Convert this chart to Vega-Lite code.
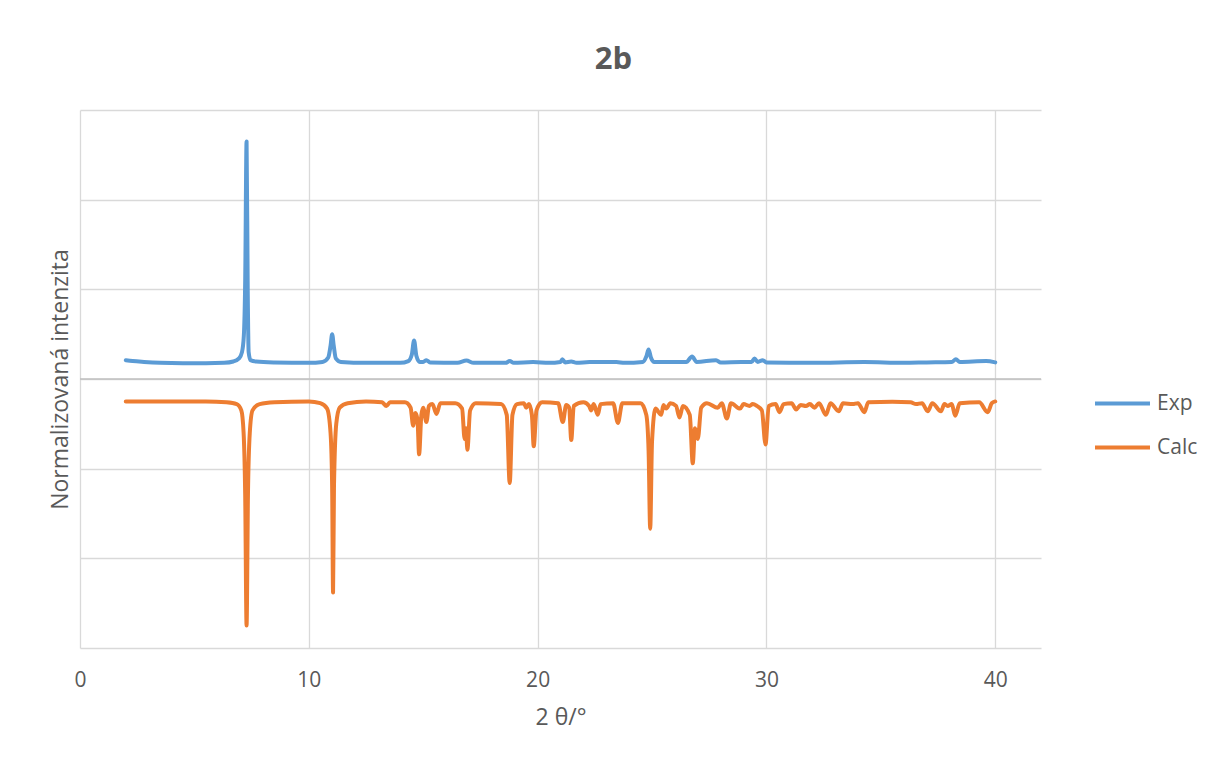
{
  "$schema": "https://vega.github.io/schema/vega-lite/v6.json",
  "autosize": "none",
  "width": 961,
  "height": 538,
  "padding": {"left": 80, "top": 110, "right": 167, "bottom": 112},
  "background": "white",
  "config": {
    "font": "Open Sans",
    "view": {"stroke": null},
    "axis": {"labelColor": "#595959", "titleColor": "#595959", "gridColor": "#d9d9d9", "gridWidth": 1.3, "labelFont": "Open Sans", "titleFont": "Open Sans", "titleFontWeight": "normal"}
  },
  "title": {"text": "2b", "fontSize": 31, "fontWeight": "bold", "color": "#595959", "font": "Open Sans", "anchor": "middle", "frame": "group", "dx": 53, "offset": 34},
  "datasets": {
    "xrd": [
      {"x": 2.0, "y": 0.21, "series": "Exp"},
      {"x": 2.3, "y": 0.2, "series": "Exp"},
      {"x": 2.8, "y": 0.19, "series": "Exp"},
      {"x": 3.5, "y": 0.18, "series": "Exp"},
      {"x": 4.5, "y": 0.175, "series": "Exp"},
      {"x": 5.5, "y": 0.175, "series": "Exp"},
      {"x": 6.3, "y": 0.18, "series": "Exp"},
      {"x": 6.7, "y": 0.195, "series": "Exp"},
      {"x": 6.95, "y": 0.23, "series": "Exp"},
      {"x": 7.08, "y": 0.3, "series": "Exp"},
      {"x": 7.16, "y": 0.48, "series": "Exp"},
      {"x": 7.22, "y": 1.1, "series": "Exp"},
      {"x": 7.28, "y": 2.65, "series": "Exp"},
      {"x": 7.33, "y": 1.0, "series": "Exp"},
      {"x": 7.37, "y": 0.3, "series": "Exp"},
      {"x": 7.45, "y": 0.21, "series": "Exp"},
      {"x": 7.7, "y": 0.195, "series": "Exp"},
      {"x": 8.5, "y": 0.185, "series": "Exp"},
      {"x": 10.0, "y": 0.18, "series": "Exp"},
      {"x": 10.6, "y": 0.19, "series": "Exp"},
      {"x": 10.85, "y": 0.24, "series": "Exp"},
      {"x": 10.95, "y": 0.37, "series": "Exp"},
      {"x": 11.02, "y": 0.5, "series": "Exp"},
      {"x": 11.09, "y": 0.37, "series": "Exp"},
      {"x": 11.18, "y": 0.23, "series": "Exp"},
      {"x": 11.4, "y": 0.19, "series": "Exp"},
      {"x": 12.5, "y": 0.18, "series": "Exp"},
      {"x": 14.0, "y": 0.18, "series": "Exp"},
      {"x": 14.35, "y": 0.2, "series": "Exp"},
      {"x": 14.5, "y": 0.27, "series": "Exp"},
      {"x": 14.6, "y": 0.43, "series": "Exp"},
      {"x": 14.7, "y": 0.26, "series": "Exp"},
      {"x": 14.85, "y": 0.19, "series": "Exp"},
      {"x": 15.0, "y": 0.19, "series": "Exp"},
      {"x": 15.14, "y": 0.21, "series": "Exp"},
      {"x": 15.3, "y": 0.185, "series": "Exp"},
      {"x": 16.5, "y": 0.18, "series": "Exp"},
      {"x": 16.89, "y": 0.205, "series": "Exp"},
      {"x": 17.2, "y": 0.18, "series": "Exp"},
      {"x": 18.6, "y": 0.18, "series": "Exp"},
      {"x": 18.78, "y": 0.2, "series": "Exp"},
      {"x": 18.95, "y": 0.18, "series": "Exp"},
      {"x": 19.8, "y": 0.19, "series": "Exp"},
      {"x": 20.5, "y": 0.18, "series": "Exp"},
      {"x": 21.0, "y": 0.19, "series": "Exp"},
      {"x": 21.08, "y": 0.22, "series": "Exp"},
      {"x": 21.2, "y": 0.185, "series": "Exp"},
      {"x": 21.47, "y": 0.195, "series": "Exp"},
      {"x": 21.7, "y": 0.18, "series": "Exp"},
      {"x": 22.27, "y": 0.19, "series": "Exp"},
      {"x": 22.56, "y": 0.19, "series": "Exp"},
      {"x": 23.44, "y": 0.19, "series": "Exp"},
      {"x": 23.8, "y": 0.18, "series": "Exp"},
      {"x": 24.6, "y": 0.19, "series": "Exp"},
      {"x": 24.75, "y": 0.25, "series": "Exp"},
      {"x": 24.85, "y": 0.33, "series": "Exp"},
      {"x": 24.95, "y": 0.24, "series": "Exp"},
      {"x": 25.1, "y": 0.19, "series": "Exp"},
      {"x": 25.62, "y": 0.19, "series": "Exp"},
      {"x": 26.5, "y": 0.19, "series": "Exp"},
      {"x": 26.75, "y": 0.25, "series": "Exp"},
      {"x": 26.95, "y": 0.19, "series": "Exp"},
      {"x": 27.8, "y": 0.21, "series": "Exp"},
      {"x": 28.0, "y": 0.185, "series": "Exp"},
      {"x": 28.9, "y": 0.19, "series": "Exp"},
      {"x": 29.35, "y": 0.19, "series": "Exp"},
      {"x": 29.48, "y": 0.23, "series": "Exp"},
      {"x": 29.62, "y": 0.19, "series": "Exp"},
      {"x": 29.84, "y": 0.21, "series": "Exp"},
      {"x": 30.0, "y": 0.185, "series": "Exp"},
      {"x": 32.0, "y": 0.18, "series": "Exp"},
      {"x": 34.28, "y": 0.19, "series": "Exp"},
      {"x": 36.0, "y": 0.18, "series": "Exp"},
      {"x": 37.0, "y": 0.185, "series": "Exp"},
      {"x": 38.1, "y": 0.19, "series": "Exp"},
      {"x": 38.28, "y": 0.22, "series": "Exp"},
      {"x": 38.45, "y": 0.19, "series": "Exp"},
      {"x": 39.6, "y": 0.2, "series": "Exp"},
      {"x": 40.0, "y": 0.185, "series": "Exp"},
      {"x": 2.0, "y": -0.25, "series": "Calc"},
      {"x": 5.5, "y": -0.25, "series": "Calc"},
      {"x": 6.4, "y": -0.26, "series": "Calc"},
      {"x": 6.85, "y": -0.28, "series": "Calc"},
      {"x": 7.05, "y": -0.35, "series": "Calc"},
      {"x": 7.15, "y": -0.6, "series": "Calc"},
      {"x": 7.22, "y": -1.3, "series": "Calc"},
      {"x": 7.28, "y": -2.75, "series": "Calc"},
      {"x": 7.34, "y": -1.3, "series": "Calc"},
      {"x": 7.42, "y": -0.6, "series": "Calc"},
      {"x": 7.54, "y": -0.35, "series": "Calc"},
      {"x": 7.85, "y": -0.28, "series": "Calc"},
      {"x": 8.5, "y": -0.26, "series": "Calc"},
      {"x": 10.0, "y": -0.25, "series": "Calc"},
      {"x": 10.5, "y": -0.27, "series": "Calc"},
      {"x": 10.8, "y": -0.33, "series": "Calc"},
      {"x": 10.95, "y": -0.6, "series": "Calc"},
      {"x": 11.02, "y": -1.2, "series": "Calc"},
      {"x": 11.06, "y": -2.38, "series": "Calc"},
      {"x": 11.1, "y": -1.2, "series": "Calc"},
      {"x": 11.2, "y": -0.5, "series": "Calc"},
      {"x": 11.35, "y": -0.32, "series": "Calc"},
      {"x": 11.7, "y": -0.27, "series": "Calc"},
      {"x": 12.5, "y": -0.25, "series": "Calc"},
      {"x": 13.2, "y": -0.26, "series": "Calc"},
      {"x": 13.39, "y": -0.3, "series": "Calc"},
      {"x": 13.55, "y": -0.26, "series": "Calc"},
      {"x": 14.2, "y": -0.26, "series": "Calc"},
      {"x": 14.45, "y": -0.32, "series": "Calc"},
      {"x": 14.56, "y": -0.52, "series": "Calc"},
      {"x": 14.66, "y": -0.38, "series": "Calc"},
      {"x": 14.75, "y": -0.45, "series": "Calc"},
      {"x": 14.82, "y": -0.84, "series": "Calc"},
      {"x": 14.92, "y": -0.4, "series": "Calc"},
      {"x": 15.0, "y": -0.32, "series": "Calc"},
      {"x": 15.14, "y": -0.48, "series": "Calc"},
      {"x": 15.25, "y": -0.3, "series": "Calc"},
      {"x": 15.4, "y": -0.28, "series": "Calc"},
      {"x": 15.58, "y": -0.39, "series": "Calc"},
      {"x": 15.75, "y": -0.27, "series": "Calc"},
      {"x": 16.4, "y": -0.27, "series": "Calc"},
      {"x": 16.7, "y": -0.33, "series": "Calc"},
      {"x": 16.81, "y": -0.67, "series": "Calc"},
      {"x": 16.87, "y": -0.55, "series": "Calc"},
      {"x": 16.93, "y": -0.79, "series": "Calc"},
      {"x": 17.05, "y": -0.35, "series": "Calc"},
      {"x": 17.3, "y": -0.27, "series": "Calc"},
      {"x": 18.4, "y": -0.28, "series": "Calc"},
      {"x": 18.65, "y": -0.4, "series": "Calc"},
      {"x": 18.78, "y": -1.16, "series": "Calc"},
      {"x": 18.9, "y": -0.4, "series": "Calc"},
      {"x": 19.1, "y": -0.28, "series": "Calc"},
      {"x": 19.4, "y": -0.27, "series": "Calc"},
      {"x": 19.5, "y": -0.32, "series": "Calc"},
      {"x": 19.62, "y": -0.28, "series": "Calc"},
      {"x": 19.75, "y": -0.4, "series": "Calc"},
      {"x": 19.83, "y": -0.75, "series": "Calc"},
      {"x": 19.95, "y": -0.35, "series": "Calc"},
      {"x": 20.2, "y": -0.26, "series": "Calc"},
      {"x": 20.9, "y": -0.27, "series": "Calc"},
      {"x": 21.1, "y": -0.48, "series": "Calc"},
      {"x": 21.25, "y": -0.29, "series": "Calc"},
      {"x": 21.38, "y": -0.32, "series": "Calc"},
      {"x": 21.47, "y": -0.68, "series": "Calc"},
      {"x": 21.58, "y": -0.3, "series": "Calc"},
      {"x": 22.0, "y": -0.26, "series": "Calc"},
      {"x": 22.25, "y": -0.3, "series": "Calc"},
      {"x": 22.34, "y": -0.35, "series": "Calc"},
      {"x": 22.45, "y": -0.28, "series": "Calc"},
      {"x": 22.63, "y": -0.4, "series": "Calc"},
      {"x": 22.75, "y": -0.28, "series": "Calc"},
      {"x": 23.3, "y": -0.27, "series": "Calc"},
      {"x": 23.51, "y": -0.49, "series": "Calc"},
      {"x": 23.7, "y": -0.27, "series": "Calc"},
      {"x": 24.5, "y": -0.27, "series": "Calc"},
      {"x": 24.75, "y": -0.4, "series": "Calc"},
      {"x": 24.85, "y": -0.8, "series": "Calc"},
      {"x": 24.92, "y": -1.67, "series": "Calc"},
      {"x": 25.0, "y": -0.7, "series": "Calc"},
      {"x": 25.15, "y": -0.33, "series": "Calc"},
      {"x": 25.4, "y": -0.4, "series": "Calc"},
      {"x": 25.5, "y": -0.29, "series": "Calc"},
      {"x": 25.62, "y": -0.33, "series": "Calc"},
      {"x": 25.8, "y": -0.27, "series": "Calc"},
      {"x": 26.05, "y": -0.3, "series": "Calc"},
      {"x": 26.2, "y": -0.43, "series": "Calc"},
      {"x": 26.35, "y": -0.3, "series": "Calc"},
      {"x": 26.65, "y": -0.4, "series": "Calc"},
      {"x": 26.78, "y": -0.94, "series": "Calc"},
      {"x": 26.88, "y": -0.55, "series": "Calc"},
      {"x": 27.0, "y": -0.67, "series": "Calc"},
      {"x": 27.15, "y": -0.32, "series": "Calc"},
      {"x": 27.4, "y": -0.27, "series": "Calc"},
      {"x": 27.87, "y": -0.32, "series": "Calc"},
      {"x": 28.05, "y": -0.27, "series": "Calc"},
      {"x": 28.27, "y": -0.44, "series": "Calc"},
      {"x": 28.45, "y": -0.27, "series": "Calc"},
      {"x": 28.85, "y": -0.33, "series": "Calc"},
      {"x": 29.0, "y": -0.28, "series": "Calc"},
      {"x": 29.26, "y": -0.3, "series": "Calc"},
      {"x": 29.4, "y": -0.28, "series": "Calc"},
      {"x": 29.58, "y": -0.3, "series": "Calc"},
      {"x": 29.8, "y": -0.35, "series": "Calc"},
      {"x": 29.96, "y": -0.73, "series": "Calc"},
      {"x": 30.1, "y": -0.3, "series": "Calc"},
      {"x": 30.4, "y": -0.28, "series": "Calc"},
      {"x": 30.57, "y": -0.37, "series": "Calc"},
      {"x": 30.75, "y": -0.28, "series": "Calc"},
      {"x": 31.1, "y": -0.27, "series": "Calc"},
      {"x": 31.3, "y": -0.34, "series": "Calc"},
      {"x": 31.5, "y": -0.29, "series": "Calc"},
      {"x": 31.73, "y": -0.3, "series": "Calc"},
      {"x": 31.9, "y": -0.28, "series": "Calc"},
      {"x": 32.1, "y": -0.32, "series": "Calc"},
      {"x": 32.3, "y": -0.27, "series": "Calc"},
      {"x": 32.6, "y": -0.4, "series": "Calc"},
      {"x": 32.8, "y": -0.27, "series": "Calc"},
      {"x": 33.16, "y": -0.36, "series": "Calc"},
      {"x": 33.35, "y": -0.27, "series": "Calc"},
      {"x": 33.77, "y": -0.28, "series": "Calc"},
      {"x": 34.0, "y": -0.27, "series": "Calc"},
      {"x": 34.28, "y": -0.37, "series": "Calc"},
      {"x": 34.45, "y": -0.26, "series": "Calc"},
      {"x": 35.5, "y": -0.255, "series": "Calc"},
      {"x": 36.3, "y": -0.26, "series": "Calc"},
      {"x": 36.54, "y": -0.28, "series": "Calc"},
      {"x": 36.8, "y": -0.27, "series": "Calc"},
      {"x": 37.05, "y": -0.36, "series": "Calc"},
      {"x": 37.25, "y": -0.27, "series": "Calc"},
      {"x": 37.63, "y": -0.36, "series": "Calc"},
      {"x": 37.78, "y": -0.28, "series": "Calc"},
      {"x": 37.92, "y": -0.3, "series": "Calc"},
      {"x": 38.1, "y": -0.28, "series": "Calc"},
      {"x": 38.25, "y": -0.41, "series": "Calc"},
      {"x": 38.45, "y": -0.27, "series": "Calc"},
      {"x": 39.3, "y": -0.26, "series": "Calc"},
      {"x": 39.67, "y": -0.37, "series": "Calc"},
      {"x": 39.85, "y": -0.27, "series": "Calc"},
      {"x": 40.0, "y": -0.25, "series": "Calc"}
    ],
    "zero": [{"y": 0}]
  },
  "layer": [
    {
      "data": {"name": "xrd"},
      "mark": {"type": "line", "strokeWidth": 4, "interpolate": "monotone", "strokeCap": "round", "strokeJoin": "round"},
      "encoding": {
        "x": {"field": "x", "type": "quantitative",
          "scale": {"domain": [0, 42], "nice": false, "zero": false},
          "axis": {"values": [0, 10, 20, 30, 40], "title": "2 θ/°", "domain": false, "ticks": false, "tickSize": 0, "labelFontSize": 21, "labelFlush": false, "labelPadding": 32, "labelBaseline": "middle", "titleFontSize": 23, "titleY": 69, "titleBaseline": "middle", "grid": true}},
        "y": {"field": "y", "type": "quantitative",
          "scale": {"domain": [-3, 3], "nice": false},
          "axis": {"values": [-3, -2, -1, 0, 1, 2, 3], "title": "Normalizovaná intenzita", "labels": false, "domain": false, "ticks": false, "titleFontSize": 23, "titleX": -20, "titleY": 269, "titleAngle": -90, "titleAlign": "center", "titleBaseline": "middle", "grid": true}},
        "color": {"field": "series", "type": "nominal",
          "scale": {"domain": ["Exp", "Calc"], "range": ["#5b9bd5", "#ed7d31"]},
          "legend": {"title": null, "orient": "none", "legendX": 1013, "legendY": 264, "symbolType": "stroke", "symbolSize": 3025, "symbolStrokeWidth": 4, "labelFontSize": 21, "labelColor": "#595959", "labelFont": "Open Sans", "labelOffset": 5, "rowPadding": 4, "padding": 0}},
        "detail": {"field": "series"},
        "order": {"field": "x", "type": "quantitative"}
      }
    },
    {
      "data": {"name": "zero"},
      "mark": {"type": "rule", "color": "#bfbfbf", "strokeWidth": 1.5},
      "encoding": {"y": {"field": "y", "type": "quantitative"}}
    }
  ]
}
